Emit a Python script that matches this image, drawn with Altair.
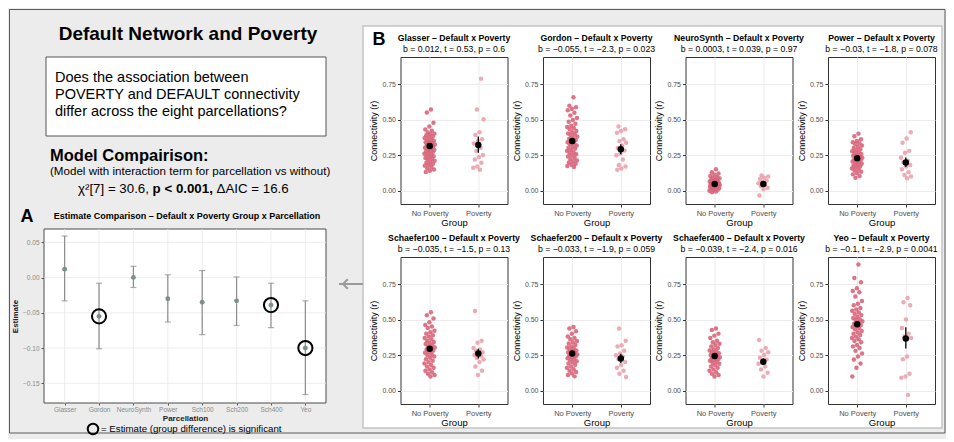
import altair as alt
import pandas as pd

FONT = "Liberation Sans"
BG = "#ececec"

# ---------------- text content ----------------
main_title = "Default Network and Poverty"
question_lines = ["Does the association between",
                  "POVERTY and DEFAULT connectivity",
                  "differ across the eight parcellations?"]
model_head = "Model Compairison:"
model_sub = "(Model with interaction term for parcellation vs without)"
chi_parts = ["χ²[7] = 30.6,", "p < 0.001,", "ΔAIC = 16.6"]
est_title = "Estimate Comparison – Default x Poverty Group x Parcellation"
legend_text = "= Estimate (group difference) is significant"

# ---------------- panel A data ----------------
parcellations = ["Glasser", "Gordon", "NeuroSynth", "Power", "Sch100", "Sch200", "Sch400", "Yeo"]
estimates = [0.012, -0.055, 0.0003, -0.030, -0.035, -0.033, -0.039, -0.100]
ci_low = [-0.033, -0.101, -0.014, -0.063, -0.081, -0.068, -0.071, -0.166]
ci_high = [0.059, -0.008, 0.016, 0.004, 0.010, 0.001, -0.008, -0.033]
significant = [False, True, False, False, False, False, True, True]
est_ticks = [0.05, 0.0, -0.05, -0.10, -0.15]

# ---------------- panel B data ----------------
panel_titles = ["Glasser – Default x Poverty", "Gordon – Default x Poverty",
                "NeuroSynth – Default x Poverty", "Power – Default x Poverty",
                "Schaefer100 – Default x Poverty", "Schaefer200 – Default x Poverty",
                "Schaefer400 – Default x Poverty", "Yeo – Default x Poverty"]
panel_stats = ["b = 0.012, t = 0.53, p = 0.6", "b = −0.055, t = −2.3, p = 0.023",
               "b = 0.0003, t = 0.039, p = 0.97", "b = −0.03, t = −1.8, p = 0.078",
               "b = −0.035, t = −1.5, p = 0.13", "b = −0.033, t = −1.9, p = 0.059",
               "b = −0.039, t = −2.4, p = 0.016", "b = −0.1, t = −2.9, p = 0.0041"]
groups = ["No Poverty", "Poverty"]

np_mean = [0.315, 0.350, 0.048, 0.230, 0.296, 0.262, 0.245, 0.468]
np_lo = [0.300, 0.335, 0.038, 0.220, 0.281, 0.250, 0.235, 0.448]
np_hi = [0.330, 0.365, 0.058, 0.240, 0.311, 0.274, 0.255, 0.488]
pv_mean = [0.323, 0.293, 0.048, 0.200, 0.262, 0.228, 0.205, 0.368]
pv_lo = [0.268, 0.258, 0.033, 0.168, 0.228, 0.196, 0.182, 0.297]
pv_hi = [0.382, 0.328, 0.063, 0.235, 0.296, 0.260, 0.230, 0.446]

glasser_np = [0.572, 0.551, 0.478, 0.452, 0.431, 0.422, 0.410, 0.402, 0.398, 0.391, 0.383, 0.378,
              0.371, 0.364, 0.358, 0.352, 0.347, 0.341, 0.336, 0.331, 0.326, 0.321, 0.317, 0.312,
              0.307, 0.303, 0.298, 0.292, 0.287, 0.281, 0.276, 0.271, 0.266, 0.260, 0.254, 0.249,
              0.243, 0.237, 0.231, 0.225, 0.219, 0.212, 0.205, 0.198, 0.191, 0.184, 0.176, 0.168,
              0.159, 0.150, 0.141, 0.132]
glasser_pv = [0.788, 0.571, 0.503, 0.412, 0.392, 0.362, 0.351, 0.332, 0.302, 0.281, 0.252, 0.238,
              0.221, 0.198, 0.171, 0.163, 0.148]
gordon_np = [0.658, 0.598, 0.588, 0.576, 0.566, 0.548, 0.529, 0.511, 0.498, 0.486, 0.471, 0.458,
             0.449, 0.441, 0.432, 0.421, 0.412, 0.403, 0.397, 0.389, 0.381, 0.372, 0.364, 0.358,
             0.351, 0.342, 0.334, 0.327, 0.319, 0.311, 0.303, 0.297, 0.289, 0.281, 0.272, 0.266,
             0.258, 0.249, 0.241, 0.232, 0.223, 0.214, 0.206, 0.199, 0.191, 0.183, 0.175, 0.168]
gordon_pv = [0.452, 0.432, 0.421, 0.408, 0.362, 0.351, 0.338, 0.318, 0.302, 0.283, 0.262, 0.251,
             0.221, 0.182, 0.171, 0.158, 0.148]
neuro_np = [0.152, 0.131, 0.122, 0.113, 0.104, 0.098, 0.093, 0.088, 0.082, 0.078, 0.074, 0.069,
            0.066, 0.062, 0.058, 0.055, 0.052, 0.049, 0.047, 0.044, 0.042, 0.039, 0.036, 0.034,
            0.031, 0.028, 0.025, 0.022, 0.019, 0.016, 0.012, 0.008, 0.004, 0.001, -0.004, -0.009,
            0.053, 0.061, 0.037, 0.045]
neuro_pv = [0.108, 0.101, 0.092, 0.083, 0.071, 0.062, 0.053, 0.044, 0.033, 0.022, 0.012, -0.032]
power_np = [0.402, 0.383, 0.362, 0.351, 0.342, 0.334, 0.327, 0.318, 0.309, 0.301, 0.293, 0.286,
            0.279, 0.272, 0.266, 0.259, 0.253, 0.247, 0.242, 0.237, 0.232, 0.227, 0.222, 0.217,
            0.212, 0.207, 0.202, 0.196, 0.191, 0.185, 0.179, 0.172, 0.165, 0.158, 0.151, 0.143,
            0.134, 0.125, 0.116, 0.104, 0.092]
power_pv = [0.412, 0.368, 0.338, 0.281, 0.268, 0.232, 0.212, 0.201, 0.182, 0.172, 0.152, 0.131,
            0.112, 0.101, 0.088]
sch100_np = [0.552, 0.531, 0.508, 0.482, 0.463, 0.452, 0.441, 0.422, 0.411, 0.402, 0.391, 0.382,
             0.371, 0.362, 0.352, 0.344, 0.337, 0.329, 0.321, 0.312, 0.304, 0.298, 0.291, 0.283,
             0.274, 0.268, 0.259, 0.251, 0.242, 0.232, 0.223, 0.212, 0.202, 0.193, 0.182, 0.172,
             0.162, 0.151, 0.142, 0.131, 0.121, 0.111, 0.101]
sch100_pv = [0.561, 0.352, 0.338, 0.302, 0.291, 0.282, 0.271, 0.262, 0.252, 0.243, 0.231, 0.221,
             0.202, 0.172, 0.141, 0.112]
sch200_np = [0.448, 0.438, 0.418, 0.401, 0.382, 0.371, 0.362, 0.351, 0.341, 0.332, 0.322, 0.312,
             0.304, 0.298, 0.291, 0.284, 0.278, 0.272, 0.266, 0.261, 0.256, 0.251, 0.246, 0.241,
             0.236, 0.229, 0.223, 0.217, 0.209, 0.201, 0.192, 0.183, 0.172, 0.162, 0.152, 0.142,
             0.132, 0.122, 0.112, 0.102]
sch200_pv = [0.438, 0.352, 0.321, 0.312, 0.282, 0.262, 0.251, 0.242, 0.222, 0.202, 0.182, 0.163,
             0.142, 0.121, 0.098]
sch400_np = [0.438, 0.428, 0.402, 0.388, 0.372, 0.352, 0.341, 0.331, 0.322, 0.312, 0.302, 0.293,
             0.284, 0.278, 0.271, 0.264, 0.258, 0.252, 0.247, 0.242, 0.237, 0.232, 0.227, 0.222,
             0.217, 0.211, 0.204, 0.198, 0.191, 0.182, 0.172, 0.162, 0.151, 0.141, 0.131, 0.121,
             0.111, 0.101]
sch400_pv = [0.358, 0.302, 0.282, 0.272, 0.252, 0.232, 0.221, 0.203, 0.191, 0.172, 0.151, 0.128,
             0.101]
yeo_np = [0.888, 0.792, 0.762, 0.721, 0.701, 0.692, 0.662, 0.631, 0.612, 0.601, 0.582, 0.571,
          0.562, 0.551, 0.542, 0.532, 0.521, 0.512, 0.503, 0.497, 0.489, 0.481, 0.472, 0.463,
          0.457, 0.449, 0.441, 0.432, 0.421, 0.412, 0.401, 0.392, 0.381, 0.371, 0.362, 0.351,
          0.342, 0.322, 0.311, 0.301, 0.281, 0.262, 0.241, 0.221, 0.192, 0.162, 0.101]
yeo_pv = [0.652, 0.622, 0.601, 0.502, 0.441, 0.402, 0.382, 0.371, 0.241, 0.222, 0.121, 0.101,
          0.092, -0.028]

np_values = [glasser_np, gordon_np, neuro_np, power_np, sch100_np, sch200_np, sch400_np, yeo_np]
pv_values = [glasser_pv, gordon_pv, neuro_pv, power_pv, sch100_pv, sch200_pv, sch400_pv, yeo_pv]

NP_COLOR = "#d8667a"
PV_COLOR = "#e9a3ad"

one_row = pd.DataFrame({"k": [0]})

# ---------------- left text chart (also draws the frames) ----------------
def txt(text, x, y, size, weight="normal", align="left", color="black"):
    return alt.Chart(one_row).mark_text(text=text, align=align, baseline="middle", fontSize=size,
                                        fontWeight=weight, font=FONT, color=color).encode(
        x=alt.value(x), y=alt.value(y))


def box(x, x2, y, y2, fill, stroke, sw):
    return alt.Chart(one_row).mark_rect(fill=fill, stroke=stroke, strokeWidth=sw).encode(
        x=alt.value(x), x2=alt.value(x2), y=alt.value(y), y2=alt.value(y2))


text_layers = [
    box(-34.5, 901, -47.5, 376, BG, "#5a5a5a", 1),
    box(319, 898, -31, 371, "white", "#c4c4c4", 1.5),
    txt(main_title, 144, -23, 19, "bold", "center"),
    box(2, 282, 0, 79, "white", "#555555", 1),
    txt(question_lines[0], 11, 21, 14.5),
    txt(question_lines[1], 11, 38, 14.5),
    txt(question_lines[2], 11, 55, 14.5),
    txt(model_head, 6, 99, 16.5, "bold"),
    txt(model_sub, 6, 115, 11.6),
    txt(chi_parts[0], 34, 132, 13.3),
    txt(chi_parts[1], 108.6, 132, 13.3, "bold"),
    txt(chi_parts[2], 172.6, 132, 13.3),
    txt("B", 335, -17, 18, "bold", "center"),
    alt.Chart(one_row).mark_rule(color="#9a9a9a", strokeWidth=2).encode(
        x=alt.value(295), x2=alt.value(319), y=alt.value(227)),
    alt.Chart(one_row).mark_point(shape="M 1 -1 L 0 0 L 1 1", filled=False, color="#9a9a9a",
                                  strokeWidth=2, size=90, opacity=1).encode(
        x=alt.value(299), y=alt.value(227)),
]
text_chart = alt.layer(*text_layers).properties(
    width=320.5, height=147, view=alt.ViewBackground(stroke="transparent"))

# ---------------- panel A: estimate chart ----------------
est_df = pd.DataFrame({"parc": parcellations, "est": estimates, "lo": ci_low, "hi": ci_high,
                       "sig": significant})
tick_df = pd.DataFrame({"v": est_ticks})
xs_est = alt.Scale(type="point", domain=parcellations, padding=0.6)
ys_est = alt.Scale(domain=[-0.178, 0.069], range=[146, -28], nice=False, zero=False)
x_axis_est = alt.Axis(title="Parcellation", grid=False, domain=False, tickSize=2, tickColor="#555",
                      labelFontSize=6.5, labelColor="#8a8a8a", labelAngle=0, labelPadding=1,
                      titleFontSize=8, titleFontWeight="bold", titleColor="#222", titlePadding=2)
y_axis_est = alt.Axis(title="Estimate", values=est_ticks, format=".2f", grid=False, domain=False,
                      tickSize=3, tickColor="#555", labelFontSize=6.5, labelColor="#8a8a8a",
                      labelPadding=2, titleFontSize=8, titleFontWeight="bold", titleColor="#222",
                      titlePadding=3)


def EX(f):
    return alt.X(f, type="nominal", scale=xs_est, axis=x_axis_est, sort=parcellations)


def EY(f):
    return alt.Y(f, type="quantitative", scale=ys_est, axis=y_axis_est)


est_layers = [
    box(0, 282, -28, 146, "white", "#4a4a4a", 1),
    alt.Chart(tick_df).mark_rule(color="#e8e8e8", strokeWidth=0.8).encode(
        y=EY("v"), x=alt.value(0), x2=alt.value(282)),
    alt.Chart(est_df).mark_rule(color="#e8e8e8", strokeWidth=0.8).encode(
        x=EX("parc"), y=alt.value(-28), y2=alt.value(146)),
    alt.Chart(est_df).mark_rule(color="#8c8c8c", strokeWidth=1.2).encode(
        x=EX("parc"), y=EY("lo"), y2=alt.Y2("hi")),
    alt.Chart(est_df).mark_tick(color="#8c8c8c", thickness=1.2, size=6).encode(
        x=EX("parc"), y=EY("lo")),
    alt.Chart(est_df).mark_tick(color="#8c8c8c", thickness=1.2, size=6).encode(
        x=EX("parc"), y=EY("hi")),
    alt.Chart(est_df).mark_circle(color="#7d8e8e", size=24, opacity=1).encode(
        x=EX("parc"), y=EY("est")),
    alt.Chart(est_df).transform_filter("datum.sig").mark_point(
        shape="circle", filled=False, color="black", strokeWidth=2, size=200, opacity=1).encode(
        x=EX("parc"), y=EY("est")),
    txt(est_title, 143, -41, 9, "bold", "center"),
    txt("A", -17, -40.5, 18, "bold", "center"),
    alt.Chart(one_row).mark_point(shape="circle", filled=False, color="black", strokeWidth=2,
                                  size=110, opacity=1).encode(x=alt.value(49), y=alt.value(172)),
    txt(legend_text, 57, 172, 9.7),
]
est_chart = alt.layer(*est_layers).properties(
    width=282, height=146, view=alt.ViewBackground(stroke="transparent"))

# ---------------- panel B: strip plots ----------------
xs_p = alt.Scale(domain=[-0.6, 1.6], nice=False, zero=False)
ys_p = alt.Scale(domain=[-0.092, 0.94], nice=False, zero=False)
x_axis_p = alt.Axis(title="Group", values=[0, 1],
                    labelExpr="datum.value == 0 ? 'No Poverty' : 'Poverty'",
                    grid=True, gridColor="#ececec", domain=False, tickSize=3, tickColor="#333",
                    labelFontSize=7.5, labelColor="#4d4d4d", labelPadding=2,
                    titleFontSize=9.5, titleFontWeight="normal", titleColor="black", titlePadding=1)
y_axis_p = alt.Axis(title="Connectivity (r)", values=[0, 0.25, 0.5, 0.75], format=".2f",
                    grid=True, gridColor="#ececec", domain=False, tickSize=3, tickColor="#333",
                    labelFontSize=7, labelColor="#4d4d4d", labelPadding=2,
                    titleFontSize=9, titleFontWeight="normal", titleColor="black", titlePadding=3)


def PX(f):
    return alt.X(f, type="quantitative", scale=xs_p, axis=x_axis_p)


def PY(f):
    return alt.Y(f, type="quantitative", scale=ys_p, axis=y_axis_p)


def panel(i):
    pts = pd.DataFrame({"group": [groups[0]] * len(np_values[i]) + [groups[1]] * len(pv_values[i]),
                        "r": np_values[i] + pv_values[i]})
    summ = pd.DataFrame({"gi": [0, 1], "m": [np_mean[i], pv_mean[i]],
                         "lo": [np_lo[i], pv_lo[i]], "hi": [np_hi[i], pv_hi[i]]})
    strip = alt.Chart(pts).transform_window(rn="row_number()").transform_calculate(
        gx="(datum.group == 'Poverty' ? 1 : 0) + ((datum.rn * 0.618034) % 1 - 0.5) * 0.22"
    ).mark_circle(size=20, opacity=0.9).encode(
        x=PX("gx"), y=PY("r"),
        color=alt.Color("group:N", scale=alt.Scale(domain=groups, range=[NP_COLOR, PV_COLOR]),
                        legend=None))
    bars = alt.Chart(summ).mark_rule(color="black", strokeWidth=1.3).encode(
        x=PX("gi"), y=PY("lo"), y2=alt.Y2("hi"))
    means = alt.Chart(summ).mark_circle(color="black", size=42, opacity=1).encode(
        x=PX("gi"), y=PY("m"))
    return alt.layer(strip, bars, means).properties(
        width=107, height=147,
        title=alt.TitleParams(text=panel_titles[i], subtitle=panel_stats[i], anchor="middle",
                              frame="group", fontSize=8.7, fontWeight="bold", color="black",
                              subtitleFontSize=8.7, subtitleColor="black", subtitlePadding=3,
                              offset=3, font=FONT, subtitleFont=FONT))


panels = [panel(i) for i in range(8)]

chart = alt.concat(
    text_chart, panels[0], panels[1], panels[2], panels[3],
    est_chart, panels[4], panels[5], panels[6], panels[7],
    columns=5, spacing={"row": 53, "column": 35.5}, bounds="flush"
).properties(padding=0, background=BG).configure(font=FONT).configure_view(
    stroke="#333333", strokeWidth=1
).configure_axis(labelFont=FONT, titleFont=FONT)

chart.save("out.html", embed_options={"renderer": "svg", "actions": False})
